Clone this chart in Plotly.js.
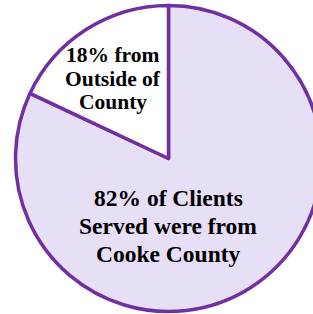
<!DOCTYPE html>
<html>
<head>
<meta charset="utf-8">
<script src="https://cdn.plot.ly/plotly-3.0.1.min.js"></script>
<style>
svg text.annotation-text, svg text.annotation-text tspan {
  font-family: 'Liberation Serif', 'Times New Roman', serif !important;
  font-weight: bold !important;
}
</style>
</head>
<body style="margin:0">
<div style="width:313px;height:314px;overflow:hidden;position:relative">
<div id="chart"></div>
</div>
<script>
const categories = ["Cooke County", "Outside of County"];
const percents = [82, 18];
const sliceLabels = [
  "82% of Clients<br>Served were from<br>Cooke County",
  "18% from<br>Outside of<br>County"
];
const sliceColors = ["#E7DFF6", "#FFFFFF"];

const W = 337, H = 314, R = 153;
const cx = 168.5, cy = 158.5;
const labelPos = [
  { x: 168, baselines: [206, 234, 261.5], size: 23.5 },
  { x: 112.5, baselines: [62, 86, 109.5], size: 21.5 }
];

const annotations = [];
sliceLabels.forEach((t, i) => {
  const p = labelPos[i];
  t.split("<br>").forEach((line, j) => {
    const yc = p.baselines[j] - 0.3375 * p.size;
    annotations.push({
      text: line,
      x: p.x / W, y: 1 - yc / H,
      xref: "paper", yref: "paper",
      xanchor: "center", yanchor: "middle",
      showarrow: false,
      font: { family: "Liberation Serif", size: p.size, weight: "bold", color: "#000" }
    });
  });
});

Plotly.newPlot("chart", [{
  type: "pie",
  labels: categories,
  values: percents,
  sort: false,
  direction: "clockwise",
  rotation: 0,
  textinfo: "none",
  hoverinfo: "none",
  marker: { colors: sliceColors, line: { color: "#7030A0", width: 3.5 } },
  domain: { x: [(cx - R) / W, (cx + R) / W], y: [(H - cy - R) / H, (H - cy + R) / H] },
  showlegend: false
}], {
  width: W, height: H,
  margin: { l: 0, r: 0, t: 0, b: 0 },
  annotations: annotations
}, { displayModeBar: false });
</script>
</body>
</html>
